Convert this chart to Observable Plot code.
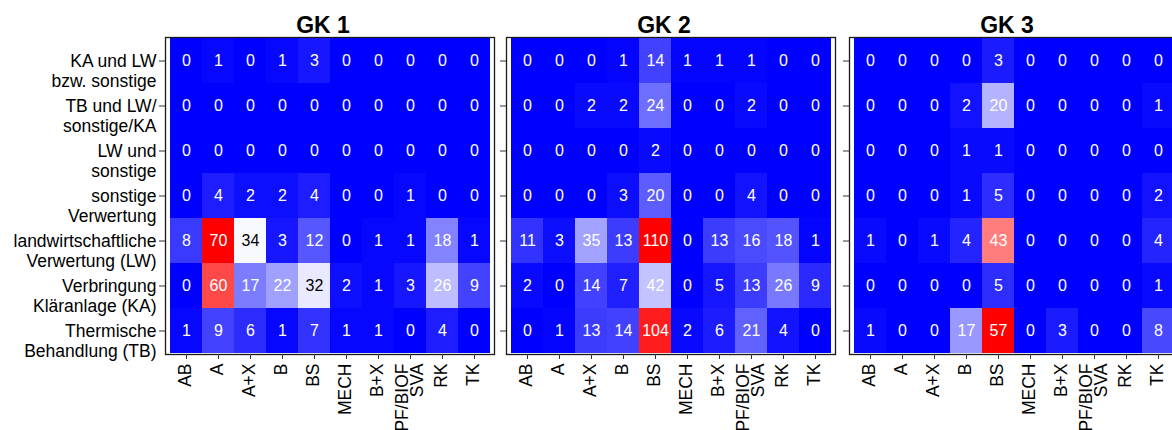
<!DOCTYPE html>
<html>
<head>
<meta charset="utf-8">
<script src="https://cdn.jsdelivr.net/npm/d3@7"></script>
<script src="https://cdn.jsdelivr.net/npm/@observablehq/plot@0.6"></script>
<style>
  html, body { margin: 0; padding: 0; background: #fff; overflow: hidden; width: 1172px; height: 430px; }
  #wrap { position: relative; width: 1172px; height: 430px; }
  #wrap > svg { position: absolute; top: 0; }
</style>
</head>
<body>
<div id="wrap"></div>
<script>
// Sludge disposal route (rows) by treatment type (columns), counted per size class GK 1–3
const rowLabels = [
  "KA und LW\nbzw. sonstige",
  "TB und LW/\nsonstige/KA",
  "LW und\nsonstige",
  "sonstige\nVerwertung",
  "landwirtschaftliche\nVerwertung (LW)",
  "Verbringung\nKläranlage (KA)",
  "Thermische\nBehandlung (TB)"
];
const colLabels = ["AB", "A", "A+X", "B", "BS", "MECH", "B+X", "PF/BIOF\nSVA", "RK", "TK"];
const panelTitles = ["GK 1", "GK 2", "GK 3"];

const gk1 = [
  [0, 1, 0, 1, 3, 0, 0, 0, 0, 0],
  [0, 0, 0, 0, 0, 0, 0, 0, 0, 0],
  [0, 0, 0, 0, 0, 0, 0, 0, 0, 0],
  [0, 4, 2, 2, 4, 0, 0, 1, 0, 0],
  [8, 70, 34, 3, 12, 0, 1, 1, 18, 1],
  [0, 60, 17, 22, 32, 2, 1, 3, 26, 9],
  [1, 9, 6, 1, 7, 1, 1, 0, 4, 0]
];
const gk2 = [
  [0, 0, 0, 1, 14, 1, 1, 1, 0, 0],
  [0, 0, 2, 2, 24, 0, 0, 2, 0, 0],
  [0, 0, 0, 0, 2, 0, 0, 0, 0, 0],
  [0, 0, 0, 3, 20, 0, 0, 4, 0, 0],
  [11, 3, 35, 13, 110, 0, 13, 16, 18, 1],
  [2, 0, 14, 7, 42, 0, 5, 13, 26, 9],
  [0, 1, 13, 14, 104, 2, 6, 21, 4, 0]
];
const gk3 = [
  [0, 0, 0, 0, 3, 0, 0, 0, 0, 0],
  [0, 0, 0, 2, 20, 0, 0, 0, 0, 1],
  [0, 0, 0, 1, 1, 0, 0, 0, 0, 0],
  [0, 0, 0, 1, 5, 0, 0, 0, 0, 2],
  [1, 0, 1, 4, 43, 0, 0, 0, 0, 4],
  [0, 0, 0, 0, 5, 0, 0, 0, 0, 1],
  [1, 0, 0, 17, 57, 0, 3, 0, 0, 8]
];

const FONT = "'Liberation Sans', Arial, Helvetica, sans-serif";

function toCells(matrix) {
  return matrix.flatMap((row, i) => row.map((value, j) => ({row: rowLabels[i], col: colLabels[j], value})));
}

function heatPanel(title, matrix, {marginLeft, showRowLabels}) {
  const data = toCells(matrix);
  const max = d3.max(data, d => d.value);
  // values close to the white midpoint get dark text
  const nearMid = d => Math.abs(d.value / max - 0.5) < 0.08;
  const frameW = 329, frameH = 317, top = 37, height = 430;
  const rowFont = 17.5, rowLine = 1.12;
  return Plot.plot({
    width: marginLeft + frameW + 1,
    height,
    marginLeft,
    marginRight: 1,
    marginTop: top,
    marginBottom: height - top - frameH,
    style: {background: "none", fontFamily: FONT, overflow: "visible", color: "#000"},
    x: {domain: colLabels, padding: 0, axis: null},
    y: {domain: rowLabels, padding: 0, axis: null},
    color: {
      type: "linear",
      domain: [0, max],
      interpolate: d3.piecewise(d3.interpolateRgb, ["#0000ff", "#ffffff", "#ff0000"])
    },
    marks: [
      Plot.cell(data, {x: "col", y: "row", fill: "value"}),
      Plot.text(data, {x: "col", y: "row", text: d => String(d.value), filter: d => !nearMid(d), fill: "white", fontSize: 16}),
      Plot.text(data, {x: "col", y: "row", text: d => String(d.value), filter: nearMid, fill: "black", fontSize: 16}),
      Plot.frame({stroke: "#1a1a1a", strokeWidth: 1.3}),
      Plot.axisX({tickRotate: -90, tickSize: 5, tickPadding: 4, fontSize: 17.5, lineHeight: 0.85, stroke: "#333", fill: "#000", label: null}),
      Plot.axisY({tickSize: 6, tickFormat: () => "", stroke: "#333", label: null}),
      // first line of each row label sits level with its tick
      showRowLabels
        ? Plot.text(rowLabels, {y: d => d, text: d => d, frameAnchor: "left", textAnchor: "end", dx: -9, dy: rowFont * rowLine / 2, lineHeight: rowLine, fontSize: rowFont, fill: "#000"})
        : null,
      Plot.text([title], {frameAnchor: "top", dx: -7, dy: -5, lineAnchor: "bottom", fontSize: 23, fontWeight: "bold", fill: "#000"})
    ]
  });
}

const wrap = document.getElementById("wrap");
const layout = [
  {matrix: gk1, left: 0, marginLeft: 165, showRowLabels: true},
  {matrix: gk2, left: 496, marginLeft: 10, showRowLabels: false},
  {matrix: gk3, left: 839, marginLeft: 10, showRowLabels: false}
];
layout.forEach((p, i) => {
  const svg = heatPanel(panelTitles[i], p.matrix, p);
  svg.style.left = p.left + "px";
  wrap.appendChild(svg);
});
</script>
</body>
</html>
